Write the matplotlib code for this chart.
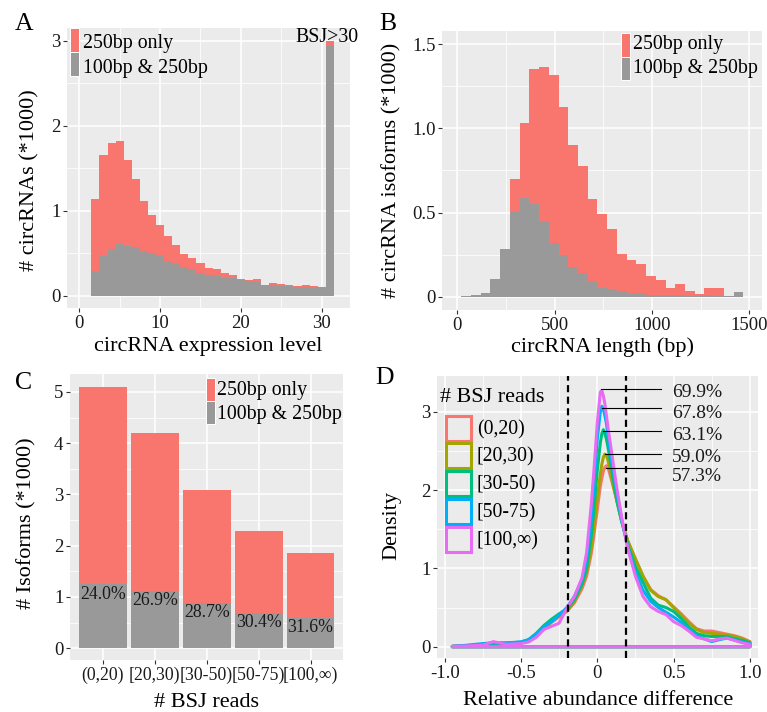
import numpy as np
import matplotlib
matplotlib.use('Agg')
import matplotlib.pyplot as plt
from matplotlib.patches import Rectangle

plt.rcParams['font.family'] = ['Liberation Serif', 'DejaVu Serif']
plt.rcParams['axes.unicode_minus'] = False

W, H = 767, 712
RED = '#F8766D'
GREY = '#999999'
BG = '#EBEBEB'
TXT = '#1a1a1a'

# ---------------- Data ----------------
# Panel A: circRNA expression level histogram (31 = BSJ>30)
a_level = [2, 3, 4, 5, 6, 7, 8, 9, 10, 11, 12, 13, 14, 15, 16, 17, 18, 19, 20,
           21, 22, 23, 24, 25, 26, 27, 28, 29, 30, 31]
a_total = [1.137, 1.655, 1.80, 1.82, 1.60, 1.37, 1.11, 0.95, 0.83, 0.705, 0.60,
           0.486, 0.447, 0.384, 0.33, 0.31, 0.27, 0.24, 0.196, 0.19, 0.196, 0.13,
           0.15, 0.14, 0.125, 0.11, 0.125, 0.118, 0.10, 3.0]
a_both = [0.29, 0.47, 0.55, 0.61, 0.59, 0.57, 0.525, 0.50, 0.48, 0.41, 0.385,
          0.34, 0.31, 0.27, 0.24, 0.235, 0.21, 0.21, 0.185, 0.17, 0.16, 0.125,
          0.125, 0.118, 0.11, 0.10, 0.105, 0.10, 0.098, 2.94]

# Panel B: circRNA length histogram (bin centres, bp)
b_length = [45, 95, 145, 195, 245, 295, 345, 395, 445, 495, 545, 595, 645, 695,
            745, 795, 845, 895, 945, 995, 1045, 1095, 1145, 1195, 1245, 1295,
            1345, 1395, 1445]
b_total = [0.004, 0.008, 0.024, 0.107, 0.285, 0.699, 1.033, 1.352, 1.364, 1.316,
           1.126, 0.900, 0.778, 0.580, 0.489, 0.402, 0.251, 0.220, 0.196, 0.121,
           0.101, 0.053, 0.077, 0.034, 0.018, 0.049, 0.053, 0.002, 0.026]
b_both = [0.004, 0.008, 0.024, 0.107, 0.285, 0.505, 0.588, 0.552, 0.449, 0.319,
          0.247, 0.176, 0.141, 0.093, 0.053, 0.046, 0.034, 0.018, 0.022, 0.010,
          0.010, 0.010, 0.010, 0.006, 0.006, 0.010, 0.002, 0.002, 0.026]

# Panel C: isoforms per BSJ read class
c_cats = ['(0,20)', '[20,30)', '[30-50)', '[50-75)', '[100,∞)']
c_total = [5.09, 4.20, 3.09, 2.29, 1.86]
c_both = [1.25, 1.12, 0.885, 0.69, 0.595]
c_pct = ['24.0%', '26.9%', '28.7%', '30.4%', '31.6%']

# Panel D: density of relative abundance difference
d_x = [-0.95, -0.85, -0.75, -0.68, -0.6, -0.5, -0.45, -0.4, -0.35, -0.3, -0.25,
       -0.2, -0.15, -0.1, -0.07, -0.04, -0.02, 0.0, 0.02, 0.03, 0.04, 0.05, 0.06,
       0.07, 0.1, 0.13, 0.16, 0.2, 0.25, 0.3, 0.35, 0.4, 0.45, 0.5, 0.55, 0.6,
       0.65, 0.7, 0.75, 0.8, 0.85, 0.9, 0.95, 1.0]
d_red = [0.005, 0.012, 0.025, 0.035, 0.04, 0.05, 0.08, 0.15, 0.23, 0.31, 0.38,
         0.45, 0.56, 0.74, 0.9, 1.18, 1.45, 1.75, 2.05, 2.15, 2.24, 2.29, 2.31,
         2.29, 2.08, 1.85, 1.6, 1.35, 1.12, 0.9, 0.73, 0.65, 0.6, 0.51, 0.42, 0.32,
         0.23, 0.2, 0.2, 0.18, 0.16, 0.14, 0.11, 0.065]
d_olive = [0.005, 0.012, 0.025, 0.035, 0.04, 0.05, 0.08, 0.15, 0.24, 0.32, 0.4,
           0.45, 0.58, 0.78, 0.95, 1.25, 1.55, 1.9, 2.2, 2.33, 2.42, 2.46, 2.44,
           2.38, 2.1, 1.85, 1.6, 1.35, 1.12, 0.9, 0.72, 0.64, 0.6, 0.5, 0.4, 0.3,
           0.22, 0.18, 0.17, 0.16, 0.15, 0.13, 0.1, 0.06]
d_green = [0.005, 0.015, 0.03, 0.04, 0.045, 0.06, 0.09, 0.17, 0.27, 0.35, 0.42,
           0.48, 0.6, 0.8, 1.0, 1.4, 1.8, 2.25, 2.6, 2.72, 2.77, 2.72, 2.65,
           2.55, 2.2, 1.85, 1.6, 1.3, 1.02, 0.82, 0.62, 0.53, 0.5, 0.45, 0.36,
           0.25, 0.17, 0.14, 0.13, 0.13, 0.13, 0.1, 0.08, 0.05]
d_blue = [0.005, 0.02, 0.04, 0.05, 0.05, 0.06, 0.09, 0.16, 0.25, 0.32, 0.40,
          0.5, 0.64, 0.85, 1.1, 1.6, 2.1, 2.65, 3.0, 3.07, 3.03, 2.95, 2.85,
          2.7, 2.3, 1.95, 1.62, 1.27, 0.95, 0.72, 0.58, 0.5, 0.44, 0.38, 0.31,
          0.22, 0.14, 0.1, 0.065, 0.09, 0.11, 0.085, 0.06, 0.04]
d_magenta = [0.005, 0.01, 0.02, 0.065, 0.03, 0.04, 0.06, 0.12, 0.22, 0.26, 0.30,
             0.49, 0.64, 0.88, 1.2, 1.8, 2.3, 2.85, 3.25, 3.27, 3.2, 3.1, 2.95,
             2.8, 2.4, 2.0, 1.65, 1.25, 0.9, 0.64, 0.51, 0.45, 0.41, 0.32, 0.27,
             0.2, 0.12, 0.1, 0.075, 0.1, 0.11, 0.08, 0.05, 0.03]
d_colors = ['#F8766D', '#A3A500', '#00BF7D', '#00B0F6', '#E76BF3']
d_peak_x = [0.06, 0.05, 0.04, 0.03, 0.025]
d_peak_y = [2.277, 2.464, 2.753, 3.05, 3.285]
d_pct = ['57.3%', '59.0%', '63.1%', '67.8%', '69.9%']
d_pct_y = [2.17, 2.417, 2.70, 2.98, 3.247]
d_cut = [-0.19, 0.19]

# ---------------- Helpers ----------------
fig = plt.figure(figsize=(W / 100, H / 100), dpi=100)


def add_axes_px(left, top, right, bottom):
    return fig.add_axes([left / W, 1 - bottom / H, (right - left) / W, (bottom - top) / H])


def style(ax, xlim, ylim, xmaj, xlab, ymaj, ylab, xmin=None, ymin=None, xsize=13.5):
    ax.set_facecolor(BG)
    for s in ax.spines.values():
        s.set_visible(False)
    ax.set_xlim(*xlim)
    ax.set_ylim(*ylim)
    ax.set_xticks(xmaj)
    ax.set_xticklabels(xlab)
    ax.set_yticks(ymaj)
    ax.set_yticklabels(ylab)
    if xmin is not None:
        ax.set_xticks(xmin, minor=True)
    if ymin is not None:
        ax.set_yticks(ymin, minor=True)
    ax.grid(which='major', color='white', lw=1.1)
    ax.grid(which='minor', color='white', lw=0.55)
    ax.tick_params(which='minor', length=0)
    ax.tick_params(which='major', length=2.75, width=0.8, color='#333333', pad=2.0,
                   labelcolor=TXT)
    ax.tick_params(axis='y', labelsize=13.5)
    ax.tick_params(axis='x', labelsize=xsize)
    ax.set_axisbelow(True)


def labels(ax, xl, yl, xlc, ylc):
    ax.set_xlabel(xl, fontsize=16, color='black')
    ax.set_ylabel(yl, fontsize=16, color='black')
    ax.xaxis.set_label_coords(*xlc)
    ax.yaxis.set_label_coords(*ylc)
    ax.xaxis.label.set_va('center')
    ax.yaxis.label.set_va('center')


def rect_px(x, y, w, h, **kw):
    r = Rectangle((x / W, 1 - (y + h) / H), w / W, h / H, transform=fig.transFigure, **kw)
    fig.add_artist(r)


def text_px(x, y, s, **kw):
    fig.text(x / W, 1 - y / H, s, **kw)


def fill_legend(kx, ky, kw, kh, tx, tys):
    rect_px(kx, ky, kw, kh, facecolor=RED, edgecolor='white', lw=0.7)
    rect_px(kx, ky + kh, kw, kh, facecolor=GREY, edgecolor='white', lw=0.7)
    text_px(tx, tys[0], '250bp only', fontsize=14.3, va='center', ha='left')
    text_px(tx, tys[1], '100bp & 250bp', fontsize=14.3, va='center', ha='left')


# ---------------- Panel A ----------------
axA = add_axes_px(67, 28, 350, 308)
style(axA, (-1.52, 33.5), (-0.145, 3.15), [0, 10, 20, 30], ['0', '10', '20', '30'],
      [0, 1, 2, 3], ['0', '1', '2', '3'], xmin=[5, 15, 25], ymin=[0.5, 1.5, 2.5])
a_only = [t - b for t, b in zip(a_total, a_both)]
axA.bar(a_level, a_both, width=1.0, color=GREY, linewidth=0)
axA.bar(a_level, a_only, bottom=a_both, width=1.0, color=RED, linewidth=0)
axA.text(30.6, 2.99, 'BSJ>30', fontsize=14.3, ha='center', va='baseline', clip_on=False)
labels(axA, 'circRNA expression level', '# circRNAs (*1000)', (0.5, -0.136), (-0.131, 0.457))
fill_legend(70, 28.3, 9, 24, 82.7, [43.5, 68.3])

# ---------------- Panel B ----------------
axB = add_axes_px(442.3, 30.7, 762.3, 310)
style(axB, (-77, 1567), (-0.079, 1.58), [0, 500, 1000, 1500], ['0', '500', '1000', '1500'],
      [0, 0.5, 1.0, 1.5], ['0', '0.5', '1.0', '1.5'], xmin=[250, 750, 1250],
      ymin=[0.25, 0.75, 1.25])
b_only = [t - b for t, b in zip(b_total, b_both)]
axB.bar(b_length, b_both, width=50, color=GREY, linewidth=0)
axB.bar(b_length, b_only, bottom=b_both, width=50, color=RED, linewidth=0)
labels(axB, 'circRNA length (bp)', '# circRNA isoforms (*1000)', (0.5, -0.132), (-0.158, 0.5))
fill_legend(620.7, 33.3, 9.3, 23.5, 633.3, [45, 69])

# ---------------- Panel C ----------------
axC = add_axes_px(70, 374, 343.3, 660)
c_pos = np.arange(1, len(c_cats) + 1)
style(axC, (0.37, 5.63), (-0.23, 5.35), c_pos, c_cats,
      [0, 1, 2, 3, 4, 5], ['0', '1', '2', '3', '4', '5'],
      ymin=[0.5, 1.5, 2.5, 3.5, 4.5], xsize=12.8)
c_only = [t - b for t, b in zip(c_total, c_both)]
axC.bar(c_pos, c_both, width=0.92, color=GREY, linewidth=0)
axC.bar(c_pos, c_only, bottom=c_both, width=0.92, color=RED, linewidth=0)
for xp, yb, s in zip(c_pos, c_both, c_pct):
    axC.text(xp, yb - 0.03, s, fontsize=12.8, ha='center', va='top', color=TXT)
labels(axC, '# BSJ reads', '# Isoforms (*1000)', (0.5, -0.147), (-0.158, 0.478))
fill_legend(206, 377.7, 9, 23, 217.3, [390.8, 415])

# ---------------- Panel D ----------------
axD = add_axes_px(437.3, 376, 758, 658.3)
style(axD, (-1.048, 1.053), (-0.148, 3.456), [-1, -0.5, 0, 0.5, 1],
      ['-1.0', '-0.5', '0', '0.5', '1.0'], [0, 1, 2, 3], ['0', '1', '2', '3'],
      xmin=[-0.75, -0.25, 0.25, 0.75], ymin=[0.5, 1.5, 2.5])
d_series = [d_red, d_olive, d_green, d_blue, d_magenta]
for ys, col in zip(d_series, d_colors):
    xs = list(d_x) + [d_x[-1], d_x[0]]
    yy = list(ys) + [0, 0]
    axD.fill(xs, yy, facecolor='none', edgecolor=col, lw=2.2, joinstyle='round')
for xc in d_cut:
    axD.axvline(xc, color='black', lw=1.6, dashes=(3.2, 2.0))
for px, py, s, ty in zip(d_peak_x, d_peak_y, d_pct, d_pct_y):
    axD.plot([px, 0.417], [py, py], color='black', lw=0.8)
    axD.text(0.49, ty, s, fontsize=14, ha='left', va='center', color=TXT)
labels(axD, 'Relative abundance difference', 'Density', (0.5, -0.148), (-0.143, 0.469))
# legend D
text_px(440, 397.5, '# BSJ reads', fontsize=15.9, va='center', ha='left')
for i, (lab, col) in enumerate(zip(c_cats, d_colors)):
    top = 415.5 + 27.8 * i
    rect_px(446, top, 24.5, 25, facecolor='none', edgecolor=col, lw=2.2)
    text_px(476.7, top + 14, lab, fontsize=14.2, va='center', ha='left')

# ---------------- Panel letters ----------------
text_px(15, 30, 'A', fontsize=18.5, va='baseline', ha='left')
text_px(379, 30, 'B', fontsize=18.5, va='baseline', ha='left')
text_px(15, 389, 'C', fontsize=18.5, va='baseline', ha='left')
text_px(375, 384, 'D', fontsize=18.5, va='baseline', ha='left')

fig.savefig('out.png', dpi=100)
